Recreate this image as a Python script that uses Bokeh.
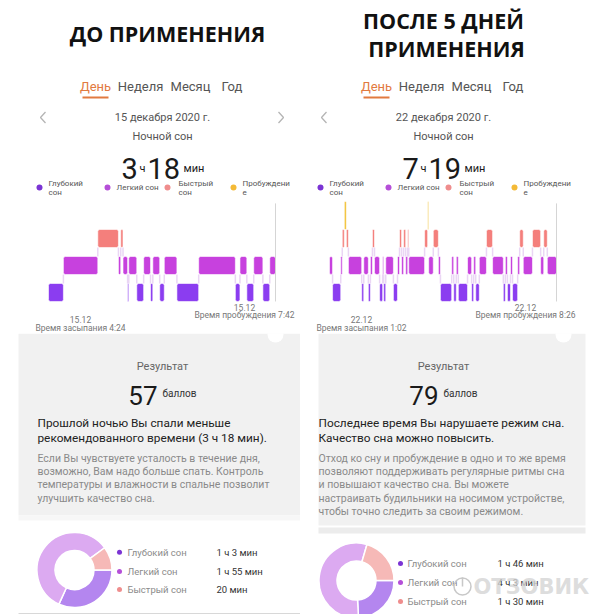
import numpy as np
from bokeh.plotting import figure
from bokeh.layouts import row, column
from bokeh.models import Range1d
from bokeh.embed import file_html
from bokeh.resources import INLINE
from bokeh.core.properties import value

# ---------------- data ----------------
titles = [["ДО ПРИМЕНЕНИЯ"], ["ПОСЛЕ 5 ДНЕЙ", "ПРИМЕНЕНИЯ"]]
tabs = ["День", "Неделя", "Месяц", "Год"]
dates = ["15 декабря 2020 г.", "22 декабря 2020 г."]
days = ["15.12", "22.12"]
onset_times = ["4:24", "1:02"]
wake_times = ["7:42", "8:26"]
onset_minutes = [264, 62]          # clock minutes of falling asleep
legend_top = [["Глубокий", "сон"], ["Легкий сон"], ["Быстрый", "сон"], ["Пробуждени", "е"]]
stage_names = ["Глубокий сон", "Легкий сон", "Быстрый сон"]
scores = [57, 79]

left_seq = ["deep", "light", "rem", "light", "rem", "light", "deep", "light", "deep", "light", "deep",
            "light", "deep", "light", "deep", "light", "deep", "light", "deep", "light", "deep", "light"]
left_dur = [13, 30, 18, 2, 2, 4, 1, 7, 6, 6, 2, 6, 4, 11, 19, 32, 4, 6, 6, 8, 6, 5]

right_seq = ["light", "deep", "light", "rem", "awake", "rem", "light", "deep", "light", "deep", "light",
             "rem", "light", "deep", "light", "deep", "light", "deep", "light", "rem", "light", "rem",
             "light", "rem", "light", "rem", "awake", "light", "rem", "light", "deep", "light", "deep",
             "light", "deep", "light", "deep", "light", "deep", "light", "rem", "light", "deep", "light",
             "deep", "light", "deep", "light", "rem", "light", "rem", "light", "rem", "light"]
right_dur = [6, 16, 3, 4, 4, 4, 26, 4, 9, 4, 4, 4, 10, 6, 2, 4, 15, 8, 4, 4, 4, 4, 4, 2, 31, 6, 2,
             9, 10, 4, 22, 4, 5, 4, 18, 8, 4, 4, 7, 14, 12, 21, 4, 4, 6, 4, 10, 4, 7, 18, 16, 6, 7, 18]

stage_minutes = [[63, 115, 20], [106, 243, 90]]

headlines = [["Прошлой ночью Вы спали меньше", "рекомендованного времени (3 ч 18 мин)."],
             ["Последнее время Вы нарушаете режим сна.", "Качество сна можно повысить."]]
bodies = [["Если Вы чувствуете усталость в течение дня,",
           "возможно, Вам надо больше спать. Контроль",
           "температуры и влажности в спальне позволит",
           "улучшить качество сна."],
          ["Отход ко сну и пробуждение в одно и то же время",
           "позволяют поддерживать регулярные ритмы сна",
           "и повышают качество сна. Вы можете",
           "настраивать будильники на носимом устройстве,",
           "чтобы точно следить за своим режимом."]]

# ---------------- style ----------------
FONT = "Roboto"
LEVEL = {"deep": 0, "light": 1, "rem": 2, "awake": 3}
BLOCK_COL = {"deep": "#8b3df0", "light": "#c741de", "rem": "#f47f7c", "awake": "#f2c134"}
LEG_COL = ["#7b34d4", "#b54fd8", "#ef8d8d", "#f4ba37"]
DONUT_COL = ["#b486ef", "#dcaaf1", "#f6b9b7"]
ORANGE = "#e27a40"


def base(w, h, xr, yr):
    p = figure(width=w, height=h, x_range=xr, y_range=yr, output_backend="svg",
               toolbar_location=None, min_border=0, outline_line_color=None,
               x_axis_location=None, y_axis_location=None)
    p.grid.visible = False
    p.background_fill_color = "white"
    p.border_fill_color = "white"
    return p


def txt(p, x, y, s, size, color, align="center", font=FONT, style="normal",
        baseline="middle", x_offset=0, alpha=1.0):
    p.text(x=[x], y=[y], text=[s], text_font=value(font), text_font_size=size,
           text_color=color, text_align=align, text_baseline=baseline,
           text_font_style=style, x_offset=x_offset, text_alpha=alpha)


def fmt(m):
    h, mm = divmod(m, 60)
    return f"{h} ч {mm} мин" if h else f"{mm} мин"


def header(i, x0, x1):
    dx = 281 * i
    p = base(300, 196, Range1d(x0, x1), Range1d(196, 0))
    if i == 0:
        txt(p, 167, 33, titles[0][0], "21.5px", "#111", font="Open Sans", style="bold")
    else:
        txt(p, 443, 20, titles[1][0], "21.5px", "#111", font="Open Sans", style="bold")
        txt(p, 446, 47.5, titles[1][1], "21.5px", "#111", font="Open Sans", style="bold")
    tab_x = [95, 140, 190, 231.5]
    for k, t in enumerate(tabs):
        txt(p, tab_x[k] + dx, 86, t, "13px", ORANGE if k == 0 else "#555")
    p.segment(x0=[82 + dx], y0=[97], x1=[108 + dx], y1=[97], line_color=ORANGE, line_width=2)
    # chevrons
    p.line([45 + dx, 40 + dx, 45 + dx], [111.5, 117, 122.5], line_color="#b5b5b5", line_width=1.3)
    if i == 0:
        p.line([278, 283, 278], [111.5, 117, 122.5], line_color="#b5b5b5", line_width=1.3)
    txt(p, 162 + dx, 117, dates[i], "11px", "#555")
    txt(p, 162 + dx, 136, "Ночной сон", "11px", "#555")
    total = sum(stage_minutes[i])
    h, m = divmod(total, 60)
    txt(p, 121 + dx, 168, str(h), "29px", "#1a1a1a", align="left", baseline="alphabetic")
    txt(p, 139 + dx, 168, "ч", "11px", "#1a1a1a", align="left", baseline="alphabetic")
    txt(p, 147 + dx, 168, str(m), "29px", "#1a1a1a", align="left", baseline="alphabetic")
    txt(p, 183 + dx, 168, "мин", "11px", "#1a1a1a", align="left", baseline="alphabetic")
    dot_x = [39, 107, 167, 233]
    txt_x = [48, 116, 178, 242]
    p.scatter([d + dx for d in dot_x], [187] * 4, size=6, color=LEG_COL, line_color=None)
    for k, lines in enumerate(legend_top):
        if len(lines) == 1:
            txt(p, txt_x[k] + dx, 187, lines[0], "8px", "#555", align="left")
        else:
            txt(p, txt_x[k] + dx, 182.5, lines[0], "8px", "#555", align="left")
            txt(p, txt_x[k] + dx, 191.5, lines[1], "8px", "#555", align="left")
    return p


def hypno(i, seq, dur, xr):
    t0 = onset_minutes[i]
    p = base(300, 137, Range1d(*xr), Range1d(-1.519, 3.556))
    edges = t0 + np.concatenate([[0], np.cumsum(dur)])
    lv = np.array([LEVEL[s] for s in seq], dtype=float)
    half = 0.333
    bottom = np.where(lv == 3, 2 + half, lv - half)
    top = np.where(lv == 3, 3.37, lv + half)
    # connectors
    cx, cy0, cy1 = [], [], []
    for k in range(len(seq) - 1):
        a, b = lv[k], lv[k + 1]
        if a != b and max(a, b) < 3:
            cx.append(edges[k + 1]); cy0.append(min(a, b) + half); cy1.append(max(a, b) - half)
    p.segment(x0=cx, y0=cy0, x1=cx, y1=cy1, line_color="#ead6f4", line_width=1.5)
    p.quad(left=edges[:-1], right=edges[1:], bottom=bottom, top=top,
           fill_color=[BLOCK_COL[s] for s in seq], line_color="white", line_width=0.6,
           border_radius=2)
    p.segment(x0=[edges[-1]], y0=[3.3], x1=[edges[-1]], y1=[-half], line_color="#d5d5d5", line_width=1)
    txt(p, t0, -1.0, days[i], "8.5px", "#777", x_offset=32)
    txt(p, t0, -1.3, "Время засыпания " + onset_times[i], "8.5px", "#777", x_offset=32)
    txt(p, edges[-1], -0.56, days[i], "8.5px", "#777", x_offset=-31)
    txt(p, edges[-1], -0.82, "Время пробуждения " + wake_times[i], "8.5px", "#777", x_offset=-31)
    return p


def lower(i, x0, x1):
    dx = 281 * i
    p = base(300, 281, Range1d(x0, x1), Range1d(614, 333))
    if i == 0:
        p.quad(left=[18], right=[300], bottom=[515], top=[333], fill_color="#f1f1f1", line_color=None)
        p.quad(left=[18], right=[300], bottom=[520], top=[515], fill_color="#f7f7f7", line_color=None)
        p.segment(x0=[18], y0=[613], x1=[300], y1=[613], line_color="#d8d8d8", line_width=1)
        p.scatter([275], [334], size=16, color="white", line_color=None)
        cx, cy = 74, 569.5
        row_y = [551.7, 571, 589]
        dot_xx, lab_x, val_x = 119, 127, 216
    else:
        p.quad(left=[318], right=[585], bottom=[525], top=[333], fill_color="#f1f1f1", line_color=None)
        p.quad(left=[318], right=[585], bottom=[533], top=[527], fill_color="#ececec", line_color=None)
        p.scatter([563], [334], size=16, color="white", line_color=None)
        cx, cy = 356, 580
        row_y = [563, 582, 601]
        dot_xx, lab_x, val_x = 400, 407, 497
    txt(p, 162 + dx, 366, "Результат", "11px", "#666")
    txt(p, 157 + dx, 395, str(scores[i]), "26px", "#1a1a1a", align="right", baseline="alphabetic")
    txt(p, 162 + dx, 393, "баллов", "10px", "#333", align="left", baseline="alphabetic")
    hx = 37 if i == 0 else 318
    for k, line in enumerate(headlines[i]):
        txt(p, hx, 422 + 15 * k, line, "11.8px", "#222", align="left")
    for k, line in enumerate(bodies[i]):
        txt(p, hx, 457.5 + 13.4 * k, line, "10.5px", "#8a8a8a", align="left")
    # donut
    mins = np.array(stage_minutes[i], dtype=float)
    ang = mins / mins.sum() * 2 * np.pi
    ends = np.cumsum(ang)
    starts = ends - ang
    p.annular_wedge(x=[cx] * 3, y=[cy] * 3, inner_radius=19.5, outer_radius=37.5,
                    inner_radius_units="screen", outer_radius_units="screen",
                    start_angle=-starts, end_angle=-ends, direction="clock",
                    fill_color=DONUT_COL, line_color="white", line_width=1.5)
    p.scatter([dot_xx] * 3, row_y, size=5, color=LEG_COL[:3], line_color=None)
    for k in range(3):
        txt(p, lab_x, row_y[k], stage_names[k], "9.5px", "#8a8a8a", align="left")
        txt(p, val_x, row_y[k], fmt(stage_minutes[i][k]), "9.5px", "#333", align="left")
    if i == 1:
        p.scatter([462], [586], size=17, fill_color=None, line_color="#c8c8c8", line_width=1.5)
        p.segment(x0=[462], y0=[577], x1=[462], y1=[586], line_color="#c8c8c8", line_width=1.5)
        txt(p, 473, 586, "ОТЗОВИК", "21px", "#d4d4d4", align="left", font="DejaVu Sans",
            style="bold", alpha=0.8)
    return p


left_col = column(header(0, 0, 300), hypno(0, left_seq, left_dur, (222.13, 483.81)), lower(0, 0, 300),
                  spacing=0)
right_col = column(header(1, 300, 600), hypno(1, right_seq, right_dur, (5.28, 592.06)), lower(1, 300, 600),
                   spacing=0)
layout = row(left_col, right_col, spacing=0)

open("out.html", "w").write(file_html(layout, INLINE))
